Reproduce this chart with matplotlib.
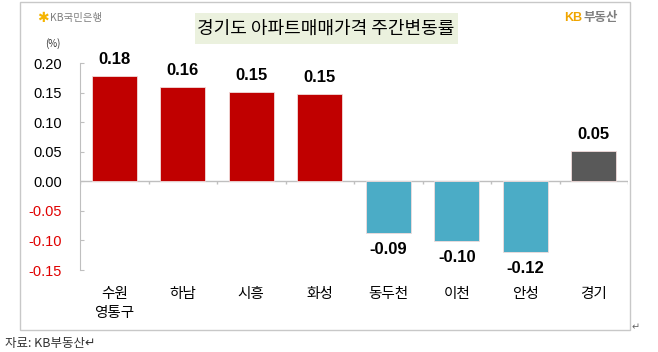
import matplotlib.pyplot as plt
from matplotlib.patches import Rectangle
import numpy as np

# data
regions = ['수원\n영통구', '하남', '시흥', '화성', '동두천', '이천', '안성', '경기']
changes = [0.178, 0.159, 0.151, 0.148, -0.087, -0.101, -0.119, 0.052]
labels = ['0.18', '0.16', '0.15', '0.15', '-0.09', '-0.10', '-0.12', '0.05']
yticks = [-0.15, -0.10, -0.05, 0.00, 0.05, 0.10, 0.15, 0.20]

kr = ['Noto Sans CJK KR', 'DejaVu Sans']
plt.rcParams['font.family'] = kr

colors = []
for name, v in zip(regions, changes):
    if name == '경기':
        colors.append('#595959')
    elif v >= 0:
        colors.append('#C00000')
    else:
        colors.append('#4BACC6')

fig = plt.figure(figsize=(6.58, 3.52), dpi=100)
W, H = 658, 352
ax = fig.add_axes([80 / W, 1 - 270 / H, 548 / W, 207 / H])

x = np.arange(len(regions))
ax.bar(x, changes, width=0.66, color=colors, edgecolor='#F2DCDB', linewidth=0.6, zorder=3)
ax.set_xlim(-0.5, len(regions) - 0.5)
ax.set_ylim(-0.15, 0.20)

# zero line with little ticks between categories
ax.axhline(0, color='#BFBFBF', lw=1, zorder=2)
ax.vlines(np.arange(len(regions) + 1) - 0.5, -0.005, 0, color='#BFBFBF', lw=1, zorder=2)

for s in ['top', 'right', 'bottom']:
    ax.spines[s].set_visible(False)
ax.spines['left'].set_color('#BFBFBF')

ax.set_yticks(yticks)
ax.set_yticklabels(['%.2f' % t for t in yticks], family='Liberation Sans', fontsize=10.5)
for t, lab in zip(yticks, ax.get_yticklabels()):
    lab.set_color('#E00000' if t < 0 else 'black')
ax.tick_params(axis='y', direction='in', length=3, color='#BFBFBF', pad=13)

ax.set_xticks(x)
ax.set_xticklabels(regions, fontsize=10.5, linespacing=1.45)
ax.tick_params(axis='x', length=0, pad=12)

# value labels
for xi, v, lab in zip(x, changes, labels):
    if v >= 0:
        ax.text(xi, v + 0.015, lab, ha='center', va='bottom', fontsize=12,
                family='Liberation Sans', fontweight='bold')
    else:
        ax.text(xi, v - 0.016, lab, ha='center', va='top', fontsize=12,
                family='Liberation Sans', fontweight='bold')

# outer frame
fig.patches.append(Rectangle((20 / W, 1 - 330 / H), 610 / W, 328 / H, transform=fig.transFigure,
                             fill=False, edgecolor='#C8C8C8', lw=1))
# title box
fig.patches.append(Rectangle((195 / W, 1 - 44 / H), 263 / W, 31 / H, transform=fig.transFigure,
                             facecolor='#EBF1DE', edgecolor='none'))
fig.text(326 / W, 1 - 29 / H, '경기도 아파트매매가격 주간변동률', ha='center', va='center', fontsize=13)

# logos and notes
fig.text(37 / W, 1 - 18 / H, '✱', ha='left', va='center', fontsize=10, color='#F5B400', family=kr)
fig.text(50 / W, 1 - 18 / H, 'KB국민은행', ha='left', va='center', fontsize=7.5, color='#808080')
fig.text(564 / W, 1 - 18 / H, 'KB', ha='left', va='center', fontsize=9, color='#F0A500',
         fontweight='bold', family='Liberation Sans')
fig.text(584 / W, 1 - 18 / H, '부동산', ha='left', va='center', fontsize=9, color='#7F7F7F',
         fontweight='bold')
fig.text(53 / W, 1 - 44 / H, '(%)', ha='center', va='center', fontsize=7, color='#333333')
fig.text(5 / W, 1 - 343 / H, '자료: KB부동산↵', ha='left', va='center', fontsize=9, color='#333333')
fig.text(632 / W, 1 - 327 / H, '↵', ha='left', va='center', fontsize=7, color='#666666', family='DejaVu Sans')

fig.savefig('out.png', dpi=100)
